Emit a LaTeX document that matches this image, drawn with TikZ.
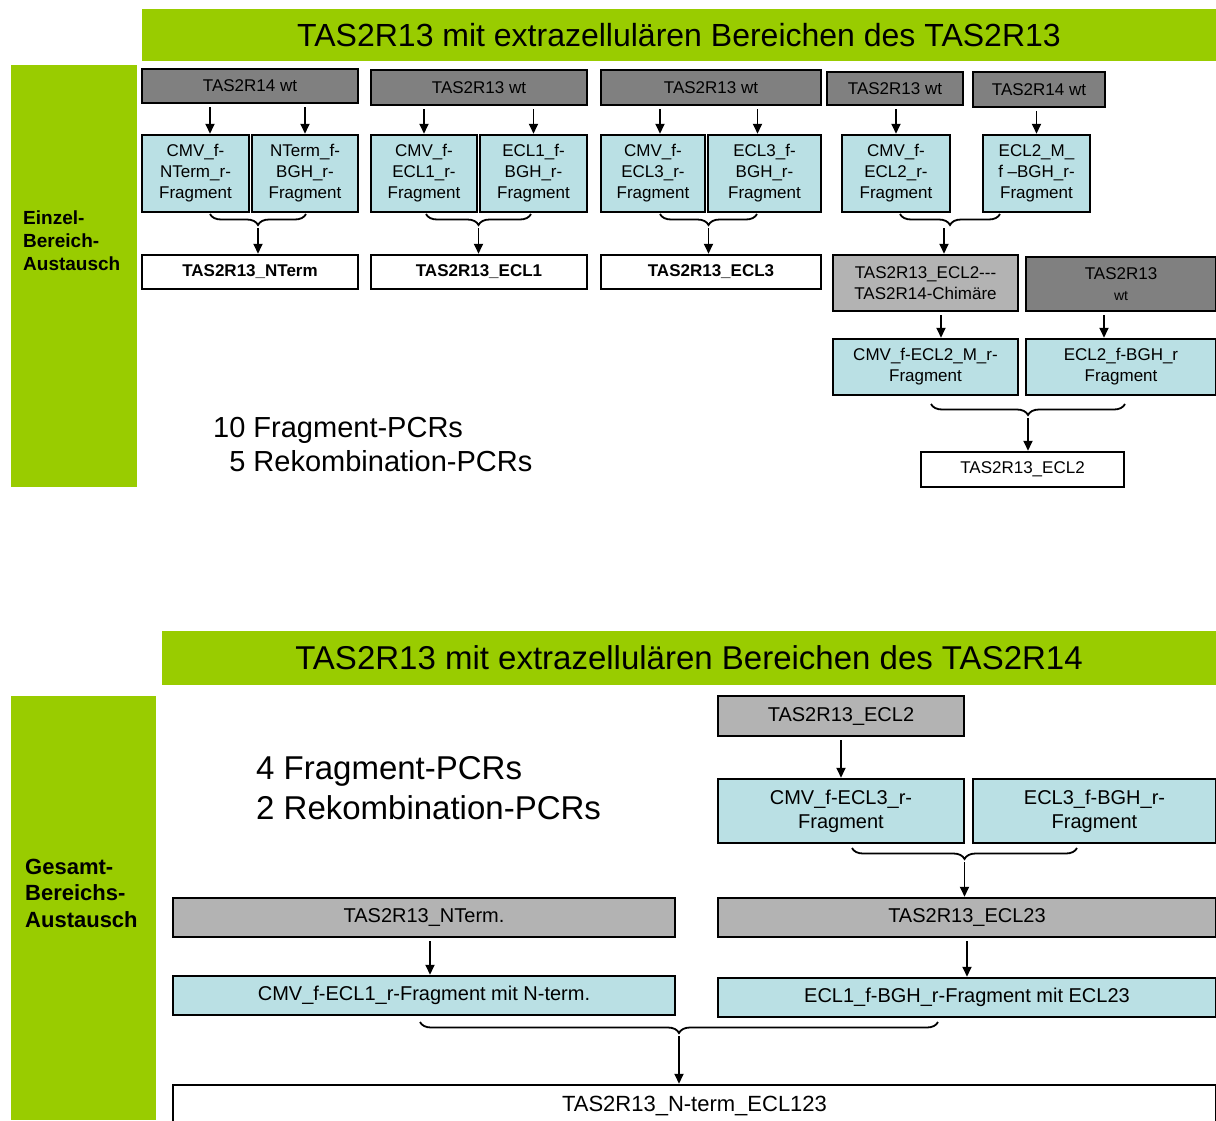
\documentclass[tikz,border=0pt]{standalone}
\usepackage{fontspec}
\setmainfont{Liberation Sans}
\usetikzlibrary{arrows.meta,decorations.pathreplacing}

\definecolor{balkengruen}{HTML}{99CC00}
\definecolor{wtgrau}{HTML}{808080}
\definecolor{hellgrau}{HTML}{B3B3B3}
\definecolor{fragblau}{HTML}{BAE0E4}

\tikzset{
  wh/.style 2 args={minimum width=#1pt, minimum height=#2pt},
  kasten/.style={draw, line width=2.5pt, inner sep=0pt, align=center, font=\fontsize{17}{21}\selectfont},
  wt/.style={kasten, fill=wtgrau},
  frag/.style={kasten, fill=fragblau},
  mitte/.style={kasten, fill=hellgrau},
  ergebnis/.style={kasten, fill=white},
  gross/.style={font=\fontsize{20}{24}\selectfont},
  balken/.style={fill=balkengruen, inner sep=0pt},
  seitentext/.style={anchor=west, align=left, inner sep=0pt},
  pfeil/.style={line width=1.8pt, shorten <=3pt, -{Triangle[length=10pt,width=9pt]}},
  klammer/.style={decorate, decoration={brace, mirror, amplitude=11pt}, line width=1.8pt},
}

\begin{document}
\begin{tikzpicture}[x=1pt,y=-1pt]
  \useasboundingbox (0,0) rectangle (1216,1120);

  % Oberer Teil: Einzel-Bereich-Austausch
  \node[balken, wh={1074}{52}, font=\fontsize{32}{38}\selectfont] (titel1) at (679,35)
    {TAS2R13 mit extrazellulären Bereichen des TAS2R13};
  \node[balken, wh={126}{422}] (seite1) at (74,276) {};
  \node[seitentext, font=\bfseries\fontsize{19}{23}\selectfont] (seite1txt) at (23,241)
    {Einzel-\\Bereich-\\Austausch};

  % Wildtypen
  \node[wt, wh={216}{34}] (wtA) at (250,86) {TAS2R14 wt};
  \node[wt, wh={216}{35}] (wtB) at (479,87.5) {TAS2R13 wt};
  \node[wt, wh={220}{35}] (wtC) at (711,87.5) {TAS2R13 wt};
  \node[wt, wh={136}{33}] (wtD) at (895,88.5) {TAS2R13 wt};
  \node[wt, wh={132}{35}] (wtE) at (1039,89.5) {TAS2R14 wt};

  % Fragmente
  \node[frag, wh={107}{77}] (fA1) at (195.5,173.5) {CMV\_f-\\NTerm\_r-\\Fragment};
  \node[frag, wh={106}{77}] (fA2) at (305,173.5) {NTerm\_f-\\BGH\_r-\\Fragment};
  \node[frag, wh={106}{77}] (fB1) at (424,173.5) {CMV\_f-\\ECL1\_r-\\Fragment};
  \node[frag, wh={107}{77}] (fB2) at (533.5,173.5) {ECL1\_f-\\BGH\_r-\\Fragment};
  \node[frag, wh={104}{77}] (fC1) at (653,173.5) {CMV\_f-\\ECL3\_r-\\Fragment};
  \node[frag, wh={113}{77}] (fC2) at (764.5,173.5) {ECL3\_f-\\BGH\_r-\\Fragment};
  \node[frag, wh={108}{77}] (fD1) at (896,173.5) {CMV\_f-\\ECL2\_r-\\Fragment};
  \node[frag, wh={107}{77}] (fE1) at (1036.5,173.5) {ECL2\_M\_\\f --BGH\_r-\\Fragment};

  % Produkte
  \node[ergebnis, wh={216}{34}, font=\bfseries\fontsize{17}{21}\selectfont] (rA) at (250,272) {TAS2R13\_NTerm};
  \node[ergebnis, wh={216}{34}, font=\bfseries\fontsize{17}{21}\selectfont] (rB) at (479,272) {TAS2R13\_ECL1};
  \node[ergebnis, wh={220}{34}, font=\bfseries\fontsize{17}{21}\selectfont] (rC) at (711,272) {TAS2R13\_ECL3};
  \node[mitte, wh={185}{56}] (chim) at (925.5,283) {TAS2R13\_ECL2-{}-{}-\\TAS2R14-Chimäre};
  \node[wt, wh={190}{54}] (wtF) at (1121,284) {TAS2R13\\{\fontsize{14}{16}\selectfont wt}};
  \node[frag, wh={185}{56}] (fF1) at (925.5,367) {CMV\_f-ECL2\_M\_r-\\Fragment};
  \node[frag, wh={190}{56}] (fF2) at (1121,367) {ECL2\_f-BGH\_r\\Fragment};
  \node[ergebnis, wh={203}{35}] (rF) at (1022.5,469.5) {TAS2R13\_ECL2};

  \node[seitentext, font=\fontsize{29}{34}\selectfont] (pcr1) at (213,445)
    {10 Fragment-PCRs\\\phantom{1}5 Rekombination-PCRs};

  % Pfeile oben
  \draw[pfeil] ([xshift=14.5pt]fA1.north |- wtA.south) -- ([xshift=14.5pt]fA1.north);
  \draw[pfeil] (fA2.north |- wtA.south) -- (fA2.north);
  \draw[pfeil] (fB1.north |- wtB.south) -- (fB1.north);
  \draw[pfeil] (fB2.north |- wtB.south) -- (fB2.north);
  \draw[pfeil] ([xshift=7pt]fC1.north |- wtC.south) -- ([xshift=7pt]fC1.north);
  \draw[pfeil] ([xshift=-7pt]fC2.north |- wtC.south) -- ([xshift=-7pt]fC2.north);
  \draw[pfeil] (fD1.north |- wtD.south) -- (fD1.north);
  \draw[pfeil] (fE1.north |- wtE.south) -- (fE1.north);
  \draw[pfeil] ([xshift=15.5pt]fF1.north |- chim.south) -- ([xshift=15.5pt]fF1.north);
  \draw[pfeil] ([xshift=-17pt]fF2.north |- wtF.south) -- ([xshift=-17pt]fF2.north);

  % Klammern oben
  \draw[klammer] (210,214) -- (306,214);
  \draw[klammer] (426,214) -- (531,214);
  \draw[klammer] (660,214) -- (757,214);
  \draw[klammer] (900,214) -- (1000,214);
  \draw[klammer] (931,404) -- (1125,404);
  \coordinate (kA) at (258,225);
  \coordinate (kB) at (478.5,225);
  \coordinate (kC) at (708.5,225);
  \coordinate (kD) at (944,225);
  \coordinate (kF) at (1028,415);
  \draw[pfeil] (kA) -- (kA |- rA.north);
  \draw[pfeil] (kB) -- (kB |- rB.north);
  \draw[pfeil] (kC) -- (kC |- rC.north);
  \draw[pfeil] (kD) -- (kD |- chim.north);
  \draw[pfeil] (kF) -- (kF |- rF.north);

  % Unterer Teil: Gesamt-Bereichs-Austausch
  \node[balken, wh={1054}{54}, font=\fontsize{33}{39}\selectfont] (titel2) at (689,658)
    {TAS2R13 mit extrazellulären Bereichen des TAS2R14};
  \node[balken, wh={145}{424}] (seite2) at (83.5,908) {};
  \node[seitentext, font=\bfseries\fontsize{22}{26.5}\selectfont] (seite2txt) at (25,893)
    {Gesamt-\\Bereichs-\\Austausch};

  \node[seitentext, font=\fontsize{33}{40}\selectfont] (pcr2) at (256,788)
    {4 Fragment-PCRs\\2 Rekombination-PCRs};

  \node[mitte, gross, wh={246}{40}] (gECL2) at (841,716) {TAS2R13\_ECL2};
  \node[frag, gross, wh={246}{64}] (fG1) at (841,811) {CMV\_f-ECL3\_r-\\Fragment};
  \node[frag, gross, wh={243}{64}] (fG2) at (1094.5,811) {ECL3\_f-BGH\_r-\\Fragment};
  \node[mitte, gross, wh={498}{39}] (gECL23) at (967,917.5) {TAS2R13\_ECL23};
  \node[mitte, gross, wh={502}{39}] (gNT) at (424,917.5) {TAS2R13\_NTerm.};
  \node[frag, gross, wh={502}{39}] (fH1) at (424,995.5) {CMV\_f-ECL1\_r-Fragment mit N-term.};
  \node[frag, gross, wh={498}{39}] (fH2) at (967,997.5) {ECL1\_f-BGH\_r-Fragment mit ECL23};
  \node[ergebnis, wh={1043}{42}, font=\fontsize{22}{26}\selectfont] (rEnd) at (694.5,1106) {TAS2R13\_N-term\_ECL123};

  % Pfeile unten
  \draw[pfeil] (fG1.north |- gECL2.south) -- (fG1.north);
  \draw[pfeil] ([xshift=6pt]fH1.north |- gNT.south) -- ([xshift=6pt]fH1.north);
  \draw[pfeil] (fH2.north |- gECL23.south) -- (fH2.north);

  % Klammern unten
  \draw[klammer] (852,848) -- (1077,848);
  \draw[klammer] (420,1022) -- (938,1022);
  \coordinate (kG) at (964.5,859);
  \coordinate (kH) at (679,1033);
  \draw[pfeil] (kG) -- (kG |- gECL23.north);
  \draw[pfeil] (kH) -- (kH |- rEnd.north);

\end{tikzpicture}
\end{document}
